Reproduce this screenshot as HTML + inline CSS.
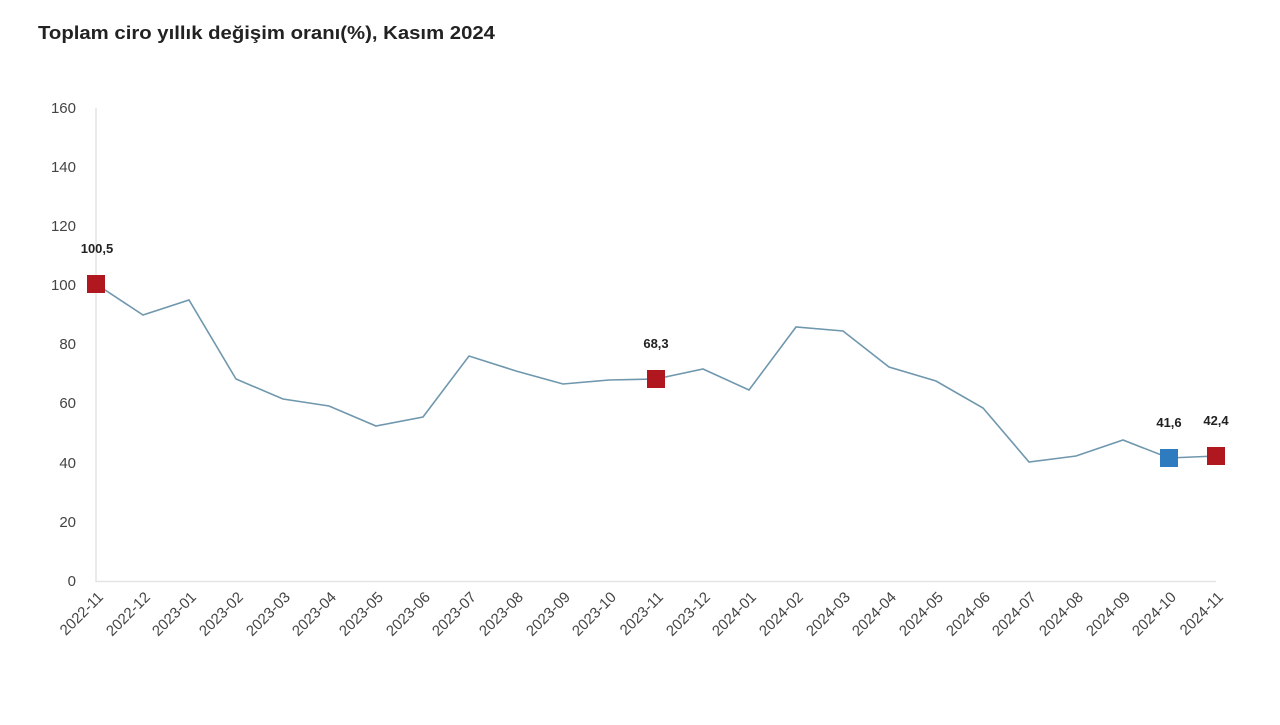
<!DOCTYPE html>
<html><head><meta charset="utf-8"><style>
body{margin:0;background:#fff;width:1280px;height:720px;overflow:hidden}
text{font-family:"Liberation Sans",sans-serif}
</style></head><body>
<svg width="1280" height="720" viewBox="0 0 1280 720">
<text x="38" y="39" font-size="18" font-weight="bold" fill="#222" textLength="457" lengthAdjust="spacingAndGlyphs">Toplam ciro yıllık değişim oranı(%), Kasım 2024</text>
<line x1="96" y1="108" x2="96" y2="582" stroke="#e4e4e4" stroke-width="1.5"/>
<line x1="96" y1="581.5" x2="1216" y2="581.5" stroke="#e4e4e4" stroke-width="1.5"/>
<g font-size="15" fill="#444" text-anchor="end">
<text x="76" y="586">0</text><text x="76" y="527">20</text><text x="76" y="468">40</text><text x="76" y="408">60</text><text x="76" y="349">80</text><text x="76" y="290">100</text><text x="76" y="231">120</text><text x="76" y="172">140</text><text x="76" y="113">160</text>
</g>
<polyline fill="none" stroke="#6f97ad" stroke-width="1.6" points="96,284 143,315 189,300 236,379 283,399 329,406 376,426 423,417 469,356 516,371 563,384 609,380 656,379 703,369 749,390 796,327 843,331 889,367 936,381 983,408 1029,462 1076,456 1123,440 1169,458 1216,456"/>
<rect x="87" y="275" width="18" height="18" fill="#b0171f"/>
<rect x="647" y="370" width="18" height="18" fill="#b0171f"/>
<rect x="1160" y="449" width="18" height="18" fill="#2e7cbf"/>
<rect x="1207" y="447" width="18" height="18" fill="#b0171f"/>
<g font-size="13" font-weight="bold" fill="#222" text-anchor="middle">
<text x="97" y="253">100,5</text><text x="656" y="348">68,3</text><text x="1169" y="427">41,6</text><text x="1216" y="425">42,4</text>
</g>
<g font-size="15" fill="#444" text-anchor="end">
<text transform="translate(104,598) rotate(-45)">2022-11</text>
<text transform="translate(151,598) rotate(-45)">2022-12</text>
<text transform="translate(197,598) rotate(-45)">2023-01</text>
<text transform="translate(244,598) rotate(-45)">2023-02</text>
<text transform="translate(291,598) rotate(-45)">2023-03</text>
<text transform="translate(337,598) rotate(-45)">2023-04</text>
<text transform="translate(384,598) rotate(-45)">2023-05</text>
<text transform="translate(431,598) rotate(-45)">2023-06</text>
<text transform="translate(477,598) rotate(-45)">2023-07</text>
<text transform="translate(524,598) rotate(-45)">2023-08</text>
<text transform="translate(571,598) rotate(-45)">2023-09</text>
<text transform="translate(617,598) rotate(-45)">2023-10</text>
<text transform="translate(664,598) rotate(-45)">2023-11</text>
<text transform="translate(711,598) rotate(-45)">2023-12</text>
<text transform="translate(757,598) rotate(-45)">2024-01</text>
<text transform="translate(804,598) rotate(-45)">2024-02</text>
<text transform="translate(851,598) rotate(-45)">2024-03</text>
<text transform="translate(897,598) rotate(-45)">2024-04</text>
<text transform="translate(944,598) rotate(-45)">2024-05</text>
<text transform="translate(991,598) rotate(-45)">2024-06</text>
<text transform="translate(1037,598) rotate(-45)">2024-07</text>
<text transform="translate(1084,598) rotate(-45)">2024-08</text>
<text transform="translate(1131,598) rotate(-45)">2024-09</text>
<text transform="translate(1177,598) rotate(-45)">2024-10</text>
<text transform="translate(1224,598) rotate(-45)">2024-11</text>
</g>
</svg>
</body></html>
